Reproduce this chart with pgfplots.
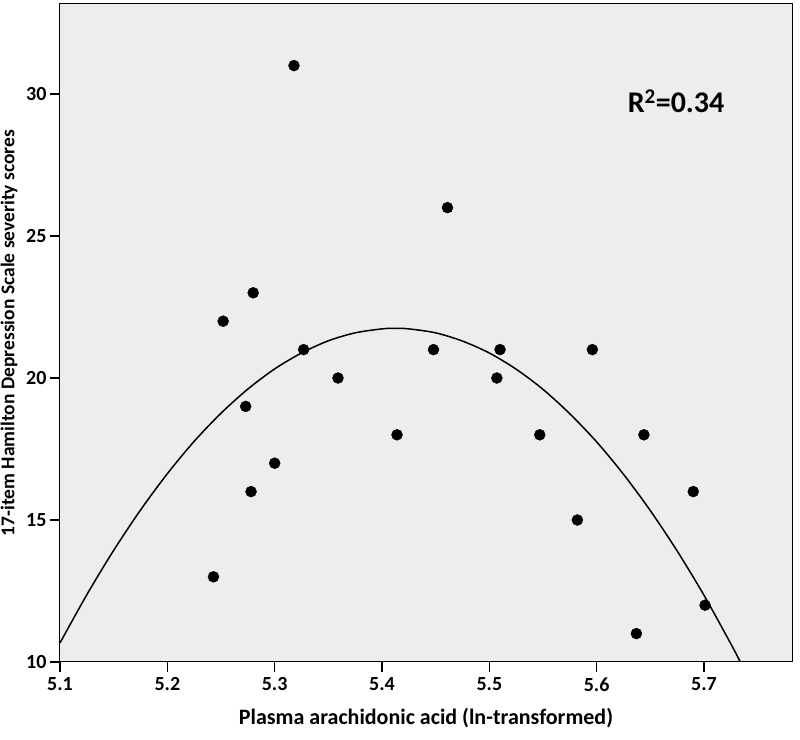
\documentclass[border=0pt]{standalone}
\usepackage{fontspec}
\setmainfont{Carlito}
\usepackage{pgfplots}
\pgfplotsset{compat=1.18}

\definecolor{panel}{RGB}{237,237,237}

\begin{document}
\begin{tikzpicture}
\begin{axis}[
    name=ax,
    width=732pt, height=658pt,
    scale only axis,
    xmin=5.1, xmax=5.782,
    ymin=10, ymax=33.17,
    xtick={5.1,5.2,...,5.7},
    ytick={10,15,20,25,30},
    xticklabel style={/pgf/number format/fixed, /pgf/number format/precision=1, yshift=-2pt},
    axis background/.style={fill=panel},
    axis line style={black, line width=1pt},
    tick style={black, line width=1.5pt},
    tick align=outside,
    major tick length=10pt,
    xtick pos=bottom, ytick pos=left,
    /pgf/number format/assume math mode=true,
    ticklabel style={font=\bfseries\fontsize{20}{20}\selectfont},
    xlabel={Plasma arachidonic acid (ln-transformed)},
    ylabel={17-item Hamilton Depression Scale severity scores},
    xlabel style={font=\bfseries\fontsize{22}{22}\selectfont, yshift=-10pt},
    ylabel style={font=\bfseries\fontsize{19.5}{19.5}\selectfont, yshift=2pt},
    clip=true,
]
% observed scores
\addplot[only marks, mark=*, mark size=5.5pt, black] coordinates {
    (5.318,31) (5.461,26) (5.280,23) (5.252,22)
    (5.327,21) (5.448,21) (5.510,21) (5.596,21)
    (5.359,20) (5.507,20) (5.273,19)
    (5.414,18) (5.547,18) (5.644,18)
    (5.300,17) (5.278,16) (5.690,16)
    (5.582,15) (5.243,13) (5.701,12) (5.637,11)
};
% quadratic fit line
\addplot[black, line width=1.5pt, smooth] coordinates {
    (5.100,10.67) (5.125,12.37) (5.150,13.93) (5.175,15.35) (5.200,16.63)
    (5.225,17.77) (5.250,18.76) (5.275,19.61) (5.300,20.32) (5.325,20.88)
    (5.350,21.31) (5.375,21.59) (5.400,21.73) (5.412,21.75) (5.425,21.73)
    (5.450,21.59) (5.475,21.30) (5.500,20.88) (5.525,20.31) (5.550,19.60)
    (5.575,18.74) (5.600,17.75) (5.625,16.61) (5.650,15.33) (5.675,13.91)
    (5.700,12.35) (5.725,10.64) (5.734,9.99)
};
\node[font=\bfseries\fontsize{30}{30}\selectfont] at (axis cs:5.674,29.75) {R\textsuperscript{2}=0.34};
\end{axis}
\pgfresetboundingbox
\path ([xshift=-60pt,yshift=-78pt]ax.south west) rectangle ([xshift=8pt,yshift=4pt]ax.north east);
\end{tikzpicture}
\end{document}
